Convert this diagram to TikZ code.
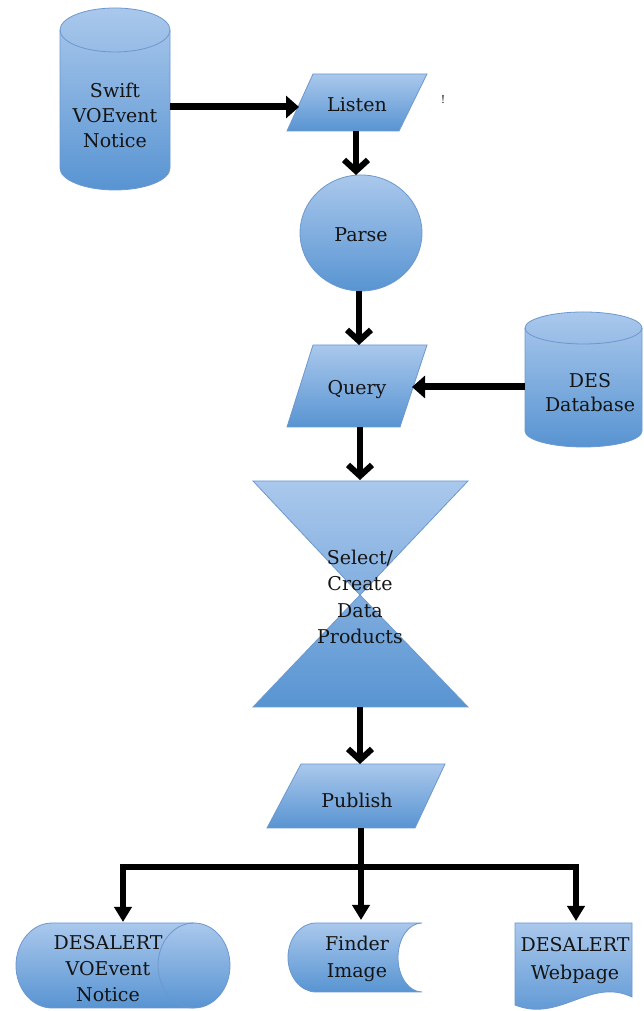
\documentclass[tikz,border=0pt]{standalone}
\usepackage{fontspec}
\setmainfont{DejaVu Serif}
\usetikzlibrary{arrows.meta}
\definecolor{topc}{RGB}{170,200,236}
\definecolor{botc}{RGB}{88,148,210}
\definecolor{edgec}{RGB}{108,152,206}
\definecolor{txtc}{RGB}{20,20,20}
\begin{document}
\begin{tikzpicture}[x=1pt,y=1pt,
  shp/.style={draw=edgec, line width=0.8pt, top color=topc, bottom color=botc},
  edgeline/.style={draw=edgec, line width=0.8pt},
  lbl/.style={font=\fontsize{19}{25}\selectfont, align=center, inner sep=0pt, text=txtc},
  arr/.style={line width=7pt, -{Triangle[length=13pt,width=22pt]}},
  varr/.style={line width=6pt, -{Straight Barb[length=11pt,width=24pt]}},
  barr/.style={line width=5.5pt, -{Triangle[length=15pt,width=17pt]}},
]
\useasboundingbox (0,0) rectangle (644,1011);

% Swift VOEvent Notice cylinder
\path[shp] (60,981) -- (60,843) arc[start angle=180,end angle=360,x radius=55,y radius=22]
  -- (170,981) arc[start angle=0,end angle=180,x radius=55,y radius=22] -- cycle;
\draw[edgeline] (60,981) arc[start angle=180,end angle=360,x radius=55,y radius=22];
\node[lbl] (swift) at (115,896) {Swift\\VOEvent\\Notice};

% Listen
\path[shp] (313,937) -- (427,937) -- (399,880) -- (287,880) -- cycle;
\node[lbl, anchor=base] (listen) at (357,899) {Listen};
\node[font=\fontsize{11}{13}\selectfont, inner sep=0pt, text=txtc] (bang) at (443,911) {!};

% Parse
\path[shp] (361,778) ellipse[x radius=61, y radius=58];
\node[lbl, anchor=base] (parse) at (361,769) {Parse};

% Query
\path[shp] (313,666) -- (427,666) -- (400,584) -- (287,584) -- cycle;
\node[lbl, anchor=base] (query) at (357,616) {Query};

% DES Database cylinder
\path[shp] (525,683) -- (525,580) arc[start angle=180,end angle=360,x radius=58.5,y radius=16]
  -- (642,683) arc[start angle=0,end angle=180,x radius=58.5,y radius=16] -- cycle;
\draw[edgeline] (525,683) arc[start angle=180,end angle=360,x radius=58.5,y radius=16];
\node[lbl, font=\fontsize{19}{24}\selectfont] (des) at (590,618) {DES\\Database};

% Hourglass
\path[shp] (253,530) -- (468,530) -- (360,416) -- (468,304) -- (253,304) -- (360,416) -- cycle;
\node[lbl, font=\fontsize{19}{26.5}\selectfont] (select) at (360,414) {Select/\\Create\\Data\\Products};

% Publish
\path[shp] (301,247) -- (445,247) -- (415,183) -- (267,183) -- cycle;
\node[lbl, anchor=base] (publish) at (357,203) {Publish};

% DESALERT VOEvent Notice (horizontal cylinder)
\path[shp] (52,88) -- (194,88) arc[start angle=90,end angle=-90,x radius=36,y radius=42.5]
  -- (52,3) arc[start angle=270,end angle=90,x radius=36,y radius=42.5] -- cycle;
\draw[edgeline] (194,88) arc[start angle=90,end angle=270,x radius=36,y radius=42.5];
\node[lbl, font=\fontsize{19}{26}\selectfont] (voout) at (108,42) {DESALERT\\VOEvent\\Notice};

% Finder Image (stored data)
\path[shp] (316,88) -- (422,88) arc[start angle=90,end angle=270,x radius=24,y radius=34.5]
  -- (316,19) arc[start angle=270,end angle=90,x radius=28,y radius=34.5] -- cycle;
\node[lbl, font=\fontsize{19}{27.5}\selectfont] (finder) at (357,52) {Finder\\Image};

% DESALERT Webpage (document)
\path[shp] (515,88) -- (632,88) -- (632,14) .. controls (590,34) and (560,-12) .. (515,6) -- cycle;
\node[lbl, font=\fontsize{19}{28}\selectfont] (web) at (575,50) {DESALERT\\Webpage};

% connector end points
\coordinate (swiftR) at (170,904);
\coordinate (listenL) at (299,904);
\coordinate (listenB) at (356,880);
\coordinate (parseT) at (356,836);
\coordinate (parseB) at (359,720);
\coordinate (queryT) at (359,666);
\coordinate (desL) at (525,624);
\coordinate (queryR) at (412,624);
\coordinate (queryB) at (360,584);
\coordinate (hgT) at (360,531);
\coordinate (hgB) at (360,304);
\coordinate (pubT) at (360,247);
\coordinate (pubB) at (361,183);
\coordinate (finderT) at (361,91);
\coordinate (jl) at (123,144);
\coordinate (jr) at (576,144);
\coordinate (voT) at (123,89);
\coordinate (webT) at (576,90);

% connectors
\draw[arr] (swiftR) -- (listenL);
\draw[varr] (listenB) -- (parseT);
\draw[varr] (parseB) -- (queryT);
\draw[arr] (desL) -- (queryR);
\draw[varr] (queryB) -- (hgT);
\draw[varr] (hgB) -- (pubT);
\draw[barr] (pubB) -- (finderT);
\draw[line width=5.5pt, line join=miter,
  {Triangle[length=15pt,width=17pt]}-{Triangle[length=15pt,width=17pt]}]
  (voT) -- (jl) -- (jr) -- (webT);
\end{tikzpicture}
\end{document}
